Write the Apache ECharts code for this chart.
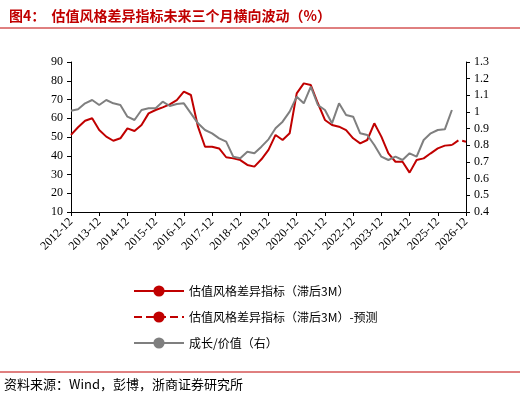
<!DOCTYPE html><html><head><meta charset="utf-8"><script src="https://cdn.jsdelivr.net/npm/echarts@6/dist/echarts.min.js"></script></head><body style="margin:0"><div id="c" style="width:520px;height:402px"></div><script>
const categories=[];for(let y=2012;y<=2026;y++){for(const m of ['03','06','09','12']){const s=y+'-'+m;if(s>='2012-12')categories.push(s);}}
const styleIndex=[51.1,55.2,58.7,60,53.7,50.2,48,49.3,54.6,53.2,56.4,62.6,64.4,65.8,67.4,69.7,74.2,72.4,55.5,44.8,44.8,43.9,39.2,38.6,37.7,35.1,34.2,38.1,43.1,51.1,48.4,52,73.3,78.6,77.7,68,59.1,56.4,55.5,53.7,49.3,46.6,48.4,57.3,50.2,41.3,36.8,36.8,31,37.7,38.6,41.3,43.9,45.4,45.7];
const styleForecast=[45.7,48.4,47.5];
const growthValue=[1.008,1.016,1.052,1.072,1.042,1.072,1.052,1.042,0.972,0.952,1.012,1.022,1.022,1.062,1.036,1.048,1.052,0.992,0.932,0.892,0.872,0.842,0.822,0.732,0.722,0.762,0.752,0.792,0.836,0.902,0.942,1.002,1.092,1.052,1.152,1.042,1.012,0.932,1.052,0.982,0.972,0.872,0.862,0.802,0.732,0.712,0.732,0.712,0.752,0.732,0.832,0.872,0.892,0.896,1.012];
const fc=new Array(54).fill(null).concat(styleForecast);
const c=echarts.init(document.getElementById('c'));
const ax={axisLine:{show:true,lineStyle:{color:'#000'}},axisTick:{show:true,inside:false,length:4,lineStyle:{color:'#000'}},splitLine:{show:false},axisLabel:{color:'#000',fontSize:12,fontFamily:'Liberation Serif'}};
c.setOption({animation:false,
title:{text:'图4：  估值风格差异指标未来三个月横向波动（%）',left:4,top:4,textStyle:{color:'#c00000',fontSize:14,fontWeight:'bold',fontFamily:'Noto Sans CJK SC'}},
graphic:[{type:'line',shape:{x1:0,y1:28,x2:520,y2:28},style:{stroke:'#c00000',lineWidth:1}},
{type:'line',shape:{x1:0,y1:372,x2:520,y2:372},style:{stroke:'#c00000',lineWidth:1}},
{type:'text',left:4,top:378,style:{text:'资料来源：Wind，彭博，浙商证券研究所',fill:'#000',fontSize:13,fontFamily:'Noto Sans CJK SC'}}],
legend:{orient:'vertical',left:128,top:280,itemGap:14,itemWidth:50,textStyle:{fontSize:12,fontFamily:'Noto Sans CJK SC',color:'#000'},
data:['估值风格差异指标（滞后3M）','估值风格差异指标（滞后3M）-预测','成长/价值（右）']},
grid:{left:71,right:54,top:62,bottom:190},
xAxis:{type:'category',data:categories,boundaryGap:false,...ax,axisTick:{show:true,interval:3,length:4,lineStyle:{color:'#000'}},axisLabel:{...ax.axisLabel,interval:3,rotate:45}},
yAxis:[{type:'value',min:10,max:90,interval:10,...ax},{type:'value',min:0.4,max:1.3,interval:0.1,...ax,axisLabel:{...ax.axisLabel,formatter:v=>v.toFixed(1).replace(/\.0$/,'')}}],
series:[{name:'估值风格差异指标（滞后3M）',type:'line',data:styleIndex,symbol:'none',lineStyle:{color:'#c00000',width:2},itemStyle:{color:'#c00000'}},
{name:'估值风格差异指标（滞后3M）-预测',type:'line',data:fc,symbol:'none',lineStyle:{color:'#c00000',width:2,type:'dashed'},itemStyle:{color:'#c00000'}},
{name:'成长/价值（右）',type:'line',yAxisIndex:1,data:growthValue,symbol:'none',lineStyle:{color:'#7f7f7f',width:2},itemStyle:{color:'#7f7f7f'}}]});
</script></body></html>
